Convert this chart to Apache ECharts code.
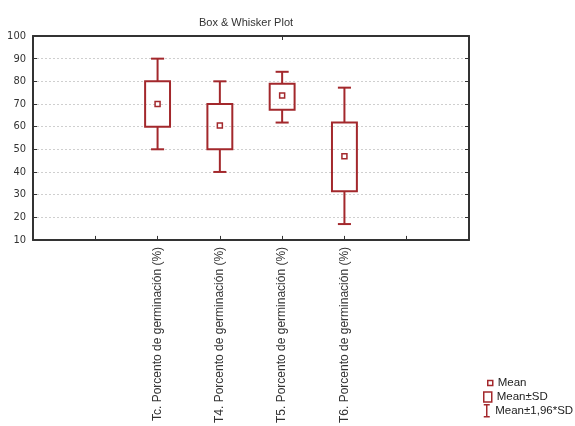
<!DOCTYPE html>
<html>
<head>
<meta charset="utf-8">
<script src="https://cdn.jsdelivr.net/npm/echarts@6/dist/echarts.min.js"></script>
<style>
    html, body { margin: 0; padding: 0; background: #fff; }
    #boxWhiskerChart { width: 575px; height: 426px; }
</style>
</head>
<body>
<div id="boxWhiskerChart"></div>
<script>
    // treatment names, with empty slots on both sides like the original plot
    const names = [
        'Tc. Porcento de germinación (%)',
        'T4. Porcento de germinación (%)',
        'T5. Porcento de germinación (%)',
        'T6. Porcento de germinación (%)'
    ]
    const categories = ['', ''].concat(names, ['', ''])
    const means = [70, 60.5, 73.7, 46.9]
    const sdLow = [60, 50, 67.5, 31.5]
    const sdHigh = [80, 70, 78.9, 61.8]
    const ciLow = [50, 40, 61.8, 17]
    const ciHigh = [90, 80, 84.2, 77.2]
    const yTicks = [10, 20, 30, 40, 50, 60, 70, 80, 90, 100]

    const red = '#a3282c'
    const frame = '#333'
    const font = "'Liberation Sans', Arial, sans-serif"
    const narrow = "'Liberation Sans Narrow', 'DejaVu Sans Condensed', 'Liberation Sans', sans-serif"

    const boxData = names.map((n, i) => [n, sdLow[i], sdHigh[i]])
    const whiskerData = names.map((n, i) => [n, ciLow[i], sdLow[i], sdHigh[i], ciHigh[i]])
    const meanData = names.map((n, i) => [n, means[i]])

    function renderBox (params, api) {
        const lo = api.coord([api.value(0), api.value(1)])
        const hi = api.coord([api.value(0), api.value(2)])
        const w = api.size([1, 0])[0] * 0.4
        return {
            type: 'rect',
            shape: { x: lo[0] - w / 2, y: hi[1], width: w, height: lo[1] - hi[1] },
            style: { fill: 'none', stroke: red, lineWidth: 2 }
        }
    }

    function renderWhisker (params, api) {
        const x = api.value(0)
        const p1 = api.coord([x, api.value(1)])
        const p2 = api.coord([x, api.value(2)])
        const p3 = api.coord([x, api.value(3)])
        const p4 = api.coord([x, api.value(4)])
        const c = api.size([1, 0])[0] * 0.105
        const st = { stroke: red, lineWidth: 2 }
        const line = (x1, y1, x2, y2) => ({ type: 'line', shape: { x1, y1, x2, y2 }, style: st })
        return {
            type: 'group',
            children: [
                line(p1[0], p1[1], p2[0], p2[1]),
                line(p3[0], p3[1], p4[0], p4[1]),
                line(p1[0] - c, p1[1], p1[0] + c, p1[1]),
                line(p4[0] - c, p4[1], p4[0] + c, p4[1])
            ]
        }
    }

    const chart = echarts.init(document.getElementById('boxWhiskerChart'))
    const legendText = { color: '#222', fontSize: 11.5, fontFamily: font }
    const option = {
        animation: false,
        backgroundColor: '#fff',
        title: {
            text: 'Box & Whisker Plot',
            left: 241,
            top: 12,
            textAlign: 'center',
            textStyle: { color: '#333', fontSize: 11, fontWeight: 'normal', fontFamily: font }
        },
        legend: [
            {
                left: 482, top: 372, itemWidth: 5, itemHeight: 5, selectedMode: false,
                textStyle: legendText,
                data: [{ name: 'Mean', icon: 'rect', itemStyle: { color: '#fff', borderColor: red, borderWidth: 1.5 } }]
            },
            {
                left: 478, top: 386, itemWidth: 8, itemHeight: 10, selectedMode: false,
                textStyle: legendText,
                data: [{ name: 'Mean±SD', icon: 'rect', itemStyle: { color: '#fff', borderColor: red, borderWidth: 1.5 } }]
            },
            {
                left: 478, top: 399, itemWidth: 7, itemHeight: 12, selectedMode: false,
                textStyle: legendText,
                data: [{
                    name: 'Mean±1,96*SD',
                    icon: 'path://M0,0H10M5,0V20M0,20H10',
                    itemStyle: { color: 'rgba(0,0,0,0)', borderColor: red, borderWidth: 1.5 }
                }]
            }
        ],
        grid: { left: 33, right: 106, top: 36, bottom: 185 },
        xAxis: [
            {
                type: 'category',
                data: categories,
                boundaryGap: false,
                axisLine: { lineStyle: { color: frame, width: 2 } },
                axisTick: { inside: true, length: 4, lineStyle: { color: frame } },
                axisLabel: {
                    interval: 0,
                    rotate: 90,
                    margin: 7,
                    color: '#333',
                    fontSize: 12,
                    fontFamily: font
                },
                splitLine: { show: false }
            },
            {
                type: 'category',
                data: categories,
                boundaryGap: false,
                position: 'top',
                axisLine: { lineStyle: { color: frame, width: 2 } },
                axisTick: { inside: true, length: 4, lineStyle: { color: frame } },
                axisLabel: { show: false },
                splitLine: { show: false }
            }
        ],
        yAxis: [
            {
                type: 'value',
                min: yTicks[0],
                max: yTicks[yTicks.length - 1],
                interval: 10,
                axisLine: { show: true, lineStyle: { color: frame, width: 2 } },
                axisTick: { show: true, inside: true, length: 4, lineStyle: { color: frame } },
                axisLabel: { margin: 7, color: '#333', fontSize: 11, fontFamily: narrow },
                splitLine: { show: true, lineStyle: { color: '#cfcfcf', type: [2, 2], width: 1 } }
            },
            {
                type: 'value',
                min: yTicks[0],
                max: yTicks[yTicks.length - 1],
                interval: 10,
                position: 'right',
                axisLine: { show: true, lineStyle: { color: frame, width: 2 } },
                axisTick: { show: true, inside: true, length: 4, lineStyle: { color: frame } },
                axisLabel: { show: false },
                splitLine: { show: false }
            }
        ],
        series: [
            {
                name: 'Mean±1,96*SD',
                type: 'custom',
                renderItem: renderWhisker,
                encode: { x: 0, y: [1, 2, 3, 4] },
                data: whiskerData,
                z: 2
            },
            {
                name: 'Mean±SD',
                type: 'custom',
                renderItem: renderBox,
                encode: { x: 0, y: [1, 2] },
                data: boxData,
                z: 3
            },
            {
                name: 'Mean',
                type: 'scatter',
                symbol: 'rect',
                symbolSize: 5,
                itemStyle: { color: '#fff', borderColor: red, borderWidth: 1.5, opacity: 1 },
                data: meanData,
                z: 4
            }
        ]
    }
    chart.setOption(option)
</script>
</body>
</html>
